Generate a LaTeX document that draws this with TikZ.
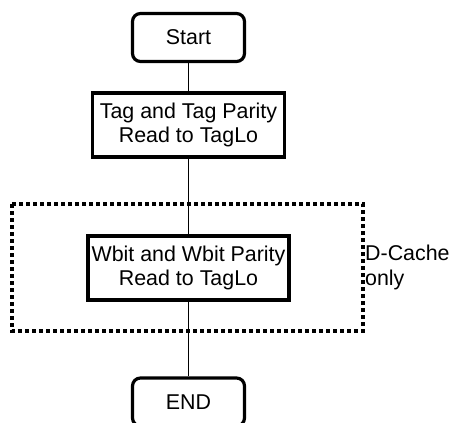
\documentclass[tikz,border=0pt]{standalone}
\usepackage{fontspec}
\setmainfont{Liberation Sans}
\usetikzlibrary{positioning}

\begin{document}
\begin{tikzpicture}[
  x=1pt, y=-1pt,
  term/.style={rectangle, draw, line width=3.2pt, rounded corners=8pt,
    minimum width=112pt, minimum height=48pt, font=\fontsize{21.4}{24.5}\selectfont},
  stepbox/.style={rectangle, draw, line width=3.2pt, align=center,
    minimum height=64pt, font=\fontsize{21.4}{24.5}\selectfont},
  link/.style={line width=1.3pt},
  region/.style={line width=3.2pt, dash pattern=on 4pt off 3pt}
]
  \useasboundingbox (0,0) rectangle (453,423);
  \node[term] (start) at (188.5,37.5) {Start};
  \node[stepbox, minimum width=192pt] (tag) at (188.5,125) {Tag and Tag Parity\\Read to TagLo};
  \node[stepbox, minimum width=201pt] (wbit) at (188.5,268) {Wbit and Wbit Parity\\Read to TagLo};
  \node[term] (fin) at (188.5,402) {END};
  \draw[region] (12,204) rectangle (363,331);
  \node[anchor=west, align=left, inner sep=0pt,
    font=\fontsize{21.4}{25}\selectfont] (dcache) at (365,267.5) {D-Cache\\only};
  \draw[link] (start) -- (tag);
  \draw[link] (tag) -- (wbit);
  \draw[link] (wbit) -- (fin);
\end{tikzpicture}
\end{document}
